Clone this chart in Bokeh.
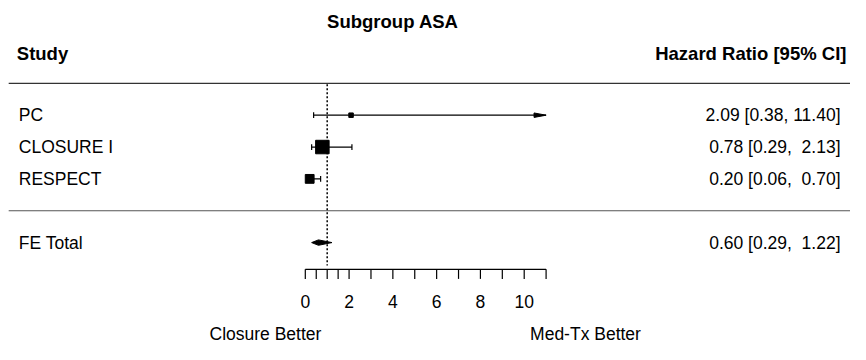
import math
from bokeh.plotting import figure
from bokeh.models import Range1d
from bokeh.core.properties import value
from bokeh.embed import file_html
from bokeh.resources import INLINE

# ---- data ----
title = "Subgroup ASA"
studies = ["PC", "CLOSURE I", "RESPECT"]
hr = [2.09, 0.78, 0.20]
ci_lo = [0.38, 0.29, 0.06]
ci_hi = [11.40, 2.13, 0.70]
summary_label = "FE Total"
fe_hr, fe_lo, fe_hi = 0.60, 0.29, 1.22
tick_major = [0, 2, 4, 6, 8, 10]
tick_minor = [0.5, 1, 1.5, 3, 5, 7, 9, 11]
axis_lim = (0, 11)
left_label = "Closure Better"
right_label = "Med-Tx Better"

# rows (metafor style)
rows = [3, 2, 1]
fe_row = -1

FONT = value("Liberation Sans")
REG = value("17.5px")
BOLD = value("18.5px")

p = figure(width=850, height=344,
           x_range=Range1d(-13.924, 24.906), y_range=Range1d(-4.2, 6.601),
           output_backend="svg", toolbar_location=None, min_border=0,
           x_axis_location=None, y_axis_location=None)
p.grid.visible = False
p.outline_line_color = None
p.background_fill_color = "white"
p.border_fill_color = "white"

def fmt(v, w=0):
    s = f"{v:.2f}"
    s = s.rjust(w)
    return s.replace(" ", "\u00a0")

# horizontal rules
p.segment(x0=[-13.55, -13.55], y0=[4, 0], x1=[24.95, 24.95], y1=[4, 0],
          line_color=["#333333", "#555555"], line_width=1.2)

# reference line at HR = 1
p.segment(x0=[1], y0=[3.97], x1=[1], y1=[-1.72], line_color="black",
          line_width=1.5, line_dash="2 2")

# CI lines
lo_c = [max(l, axis_lim[0]) for l in ci_lo]
hi_c = [min(h, axis_lim[1]) for h in ci_hi]
p.segment(x0=lo_c, y0=rows, x1=hi_c, y1=rows, line_color="black", line_width=1.2)

# whisker ends (and arrows where CI exceeds limit)
wh = 0.09
for l, h, r in zip(ci_lo, ci_hi, rows):
    if l >= axis_lim[0]:
        p.segment(x0=[l], y0=[r - wh], x1=[l], y1=[r + wh], line_color="black", line_width=1.2)
    if h <= axis_lim[1]:
        p.segment(x0=[h], y0=[r - wh], x1=[h], y1=[r + wh], line_color="black", line_width=1.2)
    else:
        tip = axis_lim[1]
        p.patch(x=[tip - 0.55, tip, tip - 0.55], y=[r - 0.07, r, r + 0.07],
                fill_color="black", line_color="black", line_width=1)

# square sizes from inverse variance weights (metafor psize)
se = [(math.log(h) - math.log(l)) / (2 * 1.96) for l, h in zip(ci_lo, ci_hi)]
w = [1 / s ** 2 for s in se]
ws = [x / sum(w) for x in w]
psize = [(x - min(ws)) / (max(ws) - min(ws)) + 0.5 for x in ws]
p.scatter(x=hr, y=rows, marker="square", size=[ps * 9 for ps in psize],
          fill_color="black", line_color="black")

# summary diamond
dh = 0.085
p.patch(x=[fe_lo, fe_hr, fe_hi, fe_hr], y=[fe_row, fe_row + dh, fe_row, fe_row - dh],
        fill_color="black", line_color="black", line_width=1)

# axis
ay = -1.84
tl = 0.3
p.segment(x0=[axis_lim[0]], y0=[ay], x1=[axis_lim[1]], y1=[ay], line_color="black", line_width=1.2)
allt = sorted(tick_major + tick_minor)
p.segment(x0=allt, y0=[ay] * len(allt), x1=allt, y1=[ay - tl] * len(allt),
          line_color="black", line_width=1.2)
p.text(x=tick_major, y=[-2.86] * len(tick_major), text=[str(t) for t in tick_major],
       text_align="center", text_baseline="middle", text_font=FONT, text_font_size=REG,
       text_color="black")

# left labels
lab_x = -13.09
p.text(x=[lab_x] * 4, y=rows + [fe_row], text=studies + [summary_label],
       text_align="left", text_baseline="middle", text_font=FONT, text_font_size=REG,
       text_color="black")

# right labels
right_txt = [f"{fmt(e)} [{fmt(l)}, {fmt(h, 5)}]" for e, l, h in zip(hr, ci_lo, ci_hi)]
right_txt.append(f"{fmt(fe_hr)} [{fmt(fe_lo)}, {fmt(fe_hi, 5)}]")
p.text(x=[24.45] * 4, y=rows + [fe_row], text=right_txt,
       text_align="right", text_baseline="middle", text_font=FONT, text_font_size=REG,
       text_color="black")

# headers
p.text(x=[-13.18], y=[4.95], text=["Study"], text_align="left", text_baseline="middle",
       text_font=FONT, text_font_size=BOLD, text_font_style="bold", text_color="black")
p.text(x=[24.72], y=[4.95], text=["Hazard Ratio [95% CI]"], text_align="right",
       text_baseline="middle", text_font=FONT, text_font_size=BOLD, text_font_style="bold",
       text_color="black")
p.text(x=[4.0], y=[5.94], text=[title], text_align="center", text_baseline="middle",
       text_font=FONT, text_font_size=BOLD, text_font_style="bold", text_color="black")

# direction labels
p.text(x=[-1.82, 12.80], y=[-3.87, -3.87], text=[left_label, right_label],
       text_align="center", text_baseline="middle", text_font=FONT, text_font_size=REG,
       text_color="black")

open("out.html", "w").write(file_html(p, INLINE))
